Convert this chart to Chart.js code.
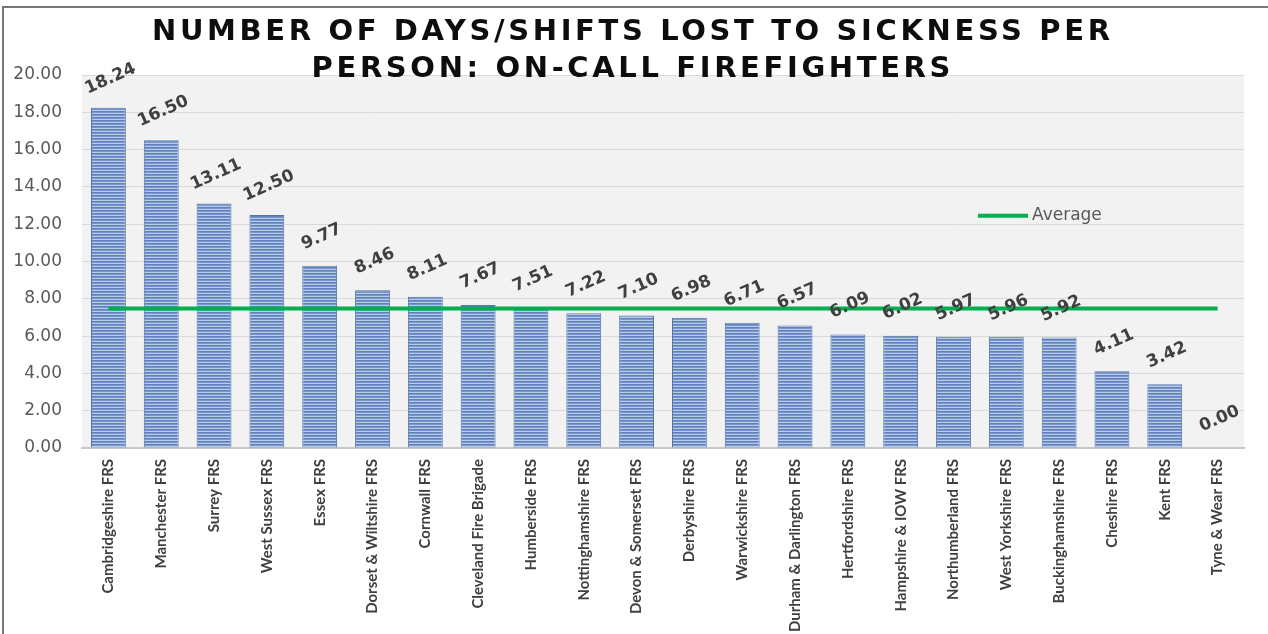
<!DOCTYPE html>
<html>
<head>
<meta charset="utf-8">
<script src="https://cdn.jsdelivr.net/npm/chart.js@4.4.1/dist/chart.umd.min.js"></script>
<style>
    body { margin: 0; background: #ffffff; }
    .wrap { position: relative; width: 1268px; height: 634px; overflow: hidden; }
    .frame { position: absolute; left: 2px; top: 6px; right: -4px; bottom: -4px; border-left: 2px solid #777777; border-top: 2px solid #777777; pointer-events: none; }
</style>
</head>
<body>
<div class="wrap">
    <canvas id="sicknessChart" width="1268" height="634"></canvas>
    <div class="frame"></div>
</div>
<script>
// Chart data
const titleLines = ["NUMBER OF DAYS/SHIFTS LOST TO SICKNESS PER", "PERSON: ON-CALL FIREFIGHTERS"];

const services = [
    "Cambridgeshire FRS", "Manchester FRS", "Surrey FRS", "West Sussex FRS", "Essex FRS",
    "Dorset & Wiltshire FRS", "Cornwall FRS", "Cleveland Fire Brigade", "Humberside FRS",
    "Nottinghamshire FRS", "Devon & Somerset FRS", "Derbyshire FRS", "Warwickshire FRS",
    "Durham & Darlington FRS", "Hertfordshire FRS", "Hampshire & IOW FRS", "Northumberland FRS",
    "West Yorkshire FRS", "Buckinghamshire FRS", "Cheshire FRS", "Kent FRS", "Tyne & Wear FRS"
];

const daysLost = [
    18.24, 16.50, 13.11, 12.50, 9.77, 8.46, 8.11, 7.67, 7.51, 7.22, 7.10,
    6.98, 6.71, 6.57, 6.09, 6.02, 5.97, 5.96, 5.92, 4.11, 3.42, 0.00
];

const averageLine = [
    7.48, 7.48, 7.48, 7.48, 7.48, 7.48, 7.48, 7.48, 7.48, 7.48, 7.48,
    7.48, 7.48, 7.48, 7.48, 7.48, 7.48, 7.48, 7.48, 7.48, 7.48, 7.48
];

const yTicks = [0, 2, 4, 6, 8, 10, 12, 14, 16, 18, 20];

// striped fill like the Excel bars
function makeStripes() {
    const c = document.createElement('canvas');
    c.width = 4;
    c.height = 3;
    const g = c.getContext('2d');
    g.fillStyle = '#5f82bf';
    g.fillRect(0, 0, 4, 1);
    g.fillStyle = '#7896cb';
    g.fillRect(0, 1, 4, 1);
    g.fillStyle = '#bacce8';
    g.fillRect(0, 2, 4, 1);
    return g.createPattern(c, 'repeat');
}

const plotBackground = {
    id: 'plotBackground',
    beforeDraw(chart) {
        const { ctx, chartArea } = chart;
        ctx.save();
        ctx.fillStyle = '#f2f2f2';
        ctx.fillRect(chartArea.left, chartArea.top, chartArea.right - chartArea.left, chartArea.bottom - chartArea.top);
        ctx.restore();
    }
};

// rotated value labels above each bar
const valueLabels = {
    id: 'valueLabels',
    afterDraw(chart) {
        const ctx = chart.ctx;
        const meta = chart.getDatasetMeta(0);
        ctx.save();
        ctx.font = 'bold 17px "DejaVu Sans"';
        ctx.fillStyle = '#404040';
        ctx.textAlign = 'center';
        ctx.textBaseline = 'middle';
        meta.data.forEach((bar, i) => {
            ctx.save();
            ctx.translate(bar.x + 2, bar.y - 29);
            ctx.rotate(-24 * Math.PI / 180);
            ctx.fillText(daysLost[i].toFixed(2), 0, 0);
            ctx.restore();
        });
        ctx.restore();
    }
};

// title with spaced capitals + the small legend inside the plot
const titleAndLegend = {
    id: 'titleAndLegend',
    afterDraw(chart) {
        const ctx = chart.ctx;
        const area = chart.chartArea;
        ctx.save();
        ctx.font = 'bold 29px "DejaVu Sans"';
        ctx.fillStyle = '#0d0d0d';
        ctx.textAlign = 'left';
        ctx.textBaseline = 'alphabetic';
        const target = 958;
        const plain = ctx.measureText(titleLines[0]).width;
        const spacing = Math.max(0, (target - plain) / (titleLines[0].length - 1));
        ctx.letterSpacing = spacing + 'px';
        const centre = 631;
        titleLines.forEach((line, i) => {
            const w = ctx.measureText(line).width - spacing;
            ctx.fillText(line, centre - w / 2, 40 + i * 37);
        });
        ctx.restore();

        // legend: Average
        const y = chart.scales.y;
        const lx = area.right - 266;
        const ly = y.getPixelForValue(12.45);
        ctx.save();
        ctx.strokeStyle = '#00b050';
        ctx.lineWidth = 4;
        ctx.beginPath();
        ctx.moveTo(lx, ly);
        ctx.lineTo(lx + 50, ly);
        ctx.stroke();
        ctx.font = '17px "DejaVu Sans"';
        ctx.fillStyle = '#595959';
        ctx.textBaseline = 'middle';
        ctx.fillText(chart.data.datasets[1].label, lx + 54, ly);
        ctx.restore();
    }
};

const chartCanvas = document.getElementById('sicknessChart');

new Chart(chartCanvas, {
    type: 'bar',
    data: {
        labels: services,
        datasets: [{
            label: 'Days lost',
            data: daysLost,
            backgroundColor: makeStripes(),
            borderColor: '#5574ad',
            borderWidth: 1,
            barPercentage: 0.66,
            categoryPercentage: 1,
            order: 2
        }, {
            type: 'line',
            label: 'Average',
            data: averageLine,
            borderColor: '#00b050',
            borderWidth: 4,
            pointRadius: 0,
            fill: false,
            order: 1
        }]
    },
    options: {
        responsive: false,
        animation: false,
        layout: {
            padding: { left: 0, top: 75, right: 24, bottom: 0 }
        },
        plugins: {
            legend: { display: false },
            title: { display: false },
            tooltip: { enabled: false }
        },
        scales: {
            x: {
                grid: { display: false, drawTicks: false },
                border: { display: true, color: '#c8c8c8', width: 2 },
                ticks: {
                    autoSkip: false,
                    minRotation: 90,
                    maxRotation: 90,
                    padding: 11,
                    color: '#404040',
                    font: { family: 'Lato', size: 15, weight: 'bold' }
                },
                afterFit(scale) {
                    scale.height = 186;
                }
            },
            y: {
                min: 0,
                max: 20,
                afterBuildTicks(scale) {
                    scale.ticks = yTicks.map(v => ({ value: v }));
                },
                grid: { color: '#d9d9d9', drawTicks: false },
                border: { display: false },
                ticks: {
                    padding: 20,
                    color: '#595959',
                    font: { family: 'DejaVu Sans', size: 17 },
                    callback: v => Number(v).toFixed(2)
                },
                afterFit(scale) {
                    scale.width = 82;
                }
            }
        }
    },
    plugins: [plotBackground, valueLabels, titleAndLegend]
});
</script>
</body>
</html>
